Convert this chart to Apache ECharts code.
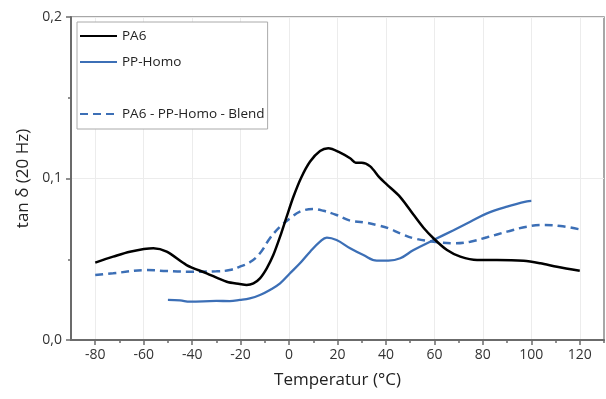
<!DOCTYPE html>
<html>
<head>
<meta charset="utf-8">
<script src="https://cdn.jsdelivr.net/npm/echarts@6/dist/echarts.min.js"></script>
<style>
  html, body { margin: 0; padding: 0; background: #fff; }
  #chart { width: 606px; height: 399px; }
</style>
</head>
<body>
<div id="chart"></div>
<script>
// temperatures (°C) and tan delta values
var pa6T = [-80, -72.6, -65.7, -56, -50.5, -42.3, -34, -25.7, -20.4, -17.5, -14.7, -12, -9.2, -6.5, -3.7, -1, 1.8, 5, 8.7, 12.8, 16.2, 21.1, 25.2, 27.5, 30, 33.5, 37.4, 40.2, 45.9, 51.4, 55.5, 59.6, 65.2, 70.7, 77.6, 85.8, 96.8, 103.7, 110.6, 120];
var pa6Y = [0.0479, 0.0516, 0.0547, 0.0568, 0.0547, 0.0464, 0.0413, 0.0361, 0.0347, 0.0341, 0.0351, 0.0382, 0.0444, 0.0526, 0.064, 0.0763, 0.0887, 0.1005, 0.1105, 0.117, 0.1187, 0.116, 0.1125, 0.1098, 0.1098, 0.1075, 0.1005, 0.0965, 0.0885, 0.0775, 0.0695, 0.063, 0.0557, 0.0516, 0.0495, 0.0495, 0.049, 0.0475, 0.0454, 0.0429];

var ppT = [-50, -45, -40.9, -30, -24.5, -20.3, -16.2, -12, -7.9, -3.7, 0.4, 4.5, 8.7, 12.8, 15.6, 19.6, 25.2, 30.7, 36.2, 41, 45.9, 51.4, 59.6, 67.9, 74.8, 81.7, 90, 98.2, 100];
var ppY = [0.0248, 0.0245, 0.0237, 0.0242, 0.0241, 0.0248, 0.0258, 0.0279, 0.031, 0.0351, 0.0413, 0.0475, 0.0547, 0.0609, 0.0634, 0.0619, 0.0568, 0.0526, 0.0492, 0.0492, 0.0506, 0.0557, 0.0619, 0.068, 0.0732, 0.0784, 0.0826, 0.0858, 0.0861];

var blendT = [-80, -72.6, -58.8, -50.5, -42.3, -30, -24.5, -20.3, -16.2, -12, -7.9, -3.7, 0.4, 4.5, 10, 14.2, 19.6, 25.2, 30.7, 36.2, 41, 45.9, 51.4, 59.6, 67.9, 74.8, 81.7, 90, 98.2, 105.1, 112, 120];
var blendY = [0.0402, 0.0413, 0.0433, 0.0427, 0.0423, 0.0425, 0.0433, 0.0454, 0.0481, 0.0537, 0.063, 0.0702, 0.0753, 0.0795, 0.0811, 0.080, 0.0774, 0.0739, 0.0729, 0.0712, 0.0692, 0.066, 0.063, 0.0609, 0.0599, 0.0609, 0.0636, 0.0671, 0.0702, 0.0712, 0.0706, 0.0685];

var xMajor = [-80, -60, -40, -20, 0, 20, 40, 60, 80, 100, 120];
var xMinor = [-70, -50, -30, -10, 10, 30, 50, 70, 90, 110, 130];
var seriesNames = ['PA6', 'PP-Homo', ' ', 'PA6 - PP-Homo - Blend'];

function pairs(xs, ys) {
  return xs.map(function (x, i) { return [x, ys[i]]; });
}

var font = "'Open Sans', 'Noto Sans', sans-serif";
var axisGray = '#6b6b6b';
var blue = '#3c6fb6';

var chart = echarts.init(document.getElementById('chart'));
chart.setOption({
  animation: false,
  textStyle: { fontFamily: font },
  grid: {
    left: 71, right: 2, top: 17, bottom: 59,
    show: true, borderColor: '#8a8a8a', borderWidth: 1.5
  },
  legend: {
    left: 77, top: 22,
    orient: 'vertical',
    data: [
      { name: seriesNames[0] },
      { name: seriesNames[1] },
      { name: seriesNames[2], icon: 'none' },
      { name: seriesNames[3] }
    ],
    itemWidth: 37, itemHeight: 14, itemGap: 12,
    padding: [7, 3, 8, 2],
    borderColor: '#aaaaaa', borderWidth: 1,
    backgroundColor: '#fff',
    itemStyle: { opacity: 0 },
    textStyle: { fontSize: 13.5, color: '#222', fontFamily: font }
  },
  xAxis: [{
    type: 'value', min: -90, max: 130,
    name: 'Temperatur (°C)', nameLocation: 'middle', nameGap: 32,
    nameTextStyle: { fontSize: 17, color: '#222' },
    axisLine: { onZero: false, lineStyle: { color: axisGray, width: 2 } },
    axisTick: { customValues: xMajor, inside: false, length: 5, lineStyle: { color: axisGray, width: 1.5 } },
    axisLabel: { customValues: xMajor, margin: 8, fontSize: 14, color: '#333' },
    splitLine: { show: true, lineStyle: { color: '#ececec', width: 1 } }
  }, {
    type: 'value', min: -90, max: 130, position: 'bottom',
    axisLine: { show: false, onZero: false },
    axisTick: { customValues: xMinor, length: 3, lineStyle: { color: axisGray, width: 1.5 } },
    axisLabel: { show: false },
    splitLine: { show: false }
  }],
  yAxis: {
    type: 'value', min: 0, max: 0.2, interval: 0.1,
    name: 'tan δ (20 Hz)', nameLocation: 'middle', nameGap: 39,
    nameTextStyle: { fontSize: 17, color: '#222' },
    axisLine: { show: true, onZero: false, lineStyle: { color: axisGray, width: 2 } },
    axisTick: { show: true, length: 5, lineStyle: { color: axisGray, width: 1.5 } },
    minorTick: { show: true, splitNumber: 2, length: 3, lineStyle: { color: axisGray, width: 1.5 } },
    axisLabel: {
      margin: 9, fontSize: 14, color: '#333',
      formatter: function (v) { return v.toFixed(1).replace('.', ','); }
    },
    splitLine: { show: true, lineStyle: { color: '#ececec', width: 1 } }
  },
  series: [{
    name: seriesNames[0], type: 'line', showSymbol: false, symbol: 'none', smooth: 0.3,
    data: pairs(pa6T, pa6Y),
    lineStyle: { color: '#000', width: 2.5 }, itemStyle: { color: '#000' }, z: 3
  }, {
    name: seriesNames[1], type: 'line', showSymbol: false, symbol: 'none', smooth: 0.4,
    data: pairs(ppT, ppY),
    lineStyle: { color: blue, width: 2.3 }, itemStyle: { color: blue }, z: 2
  }, {
    name: seriesNames[2], type: 'line', symbol: 'none', data: [],
    lineStyle: { opacity: 0 }, itemStyle: { opacity: 0 }
  }, {
    name: seriesNames[3], type: 'line', showSymbol: false, symbol: 'none', smooth: 0.4,
    data: pairs(blendT, blendY),
    lineStyle: { color: blue, width: 2.5, type: [8, 5] }, itemStyle: { color: blue }, z: 2
  }]
});
</script>
</body>
</html>
